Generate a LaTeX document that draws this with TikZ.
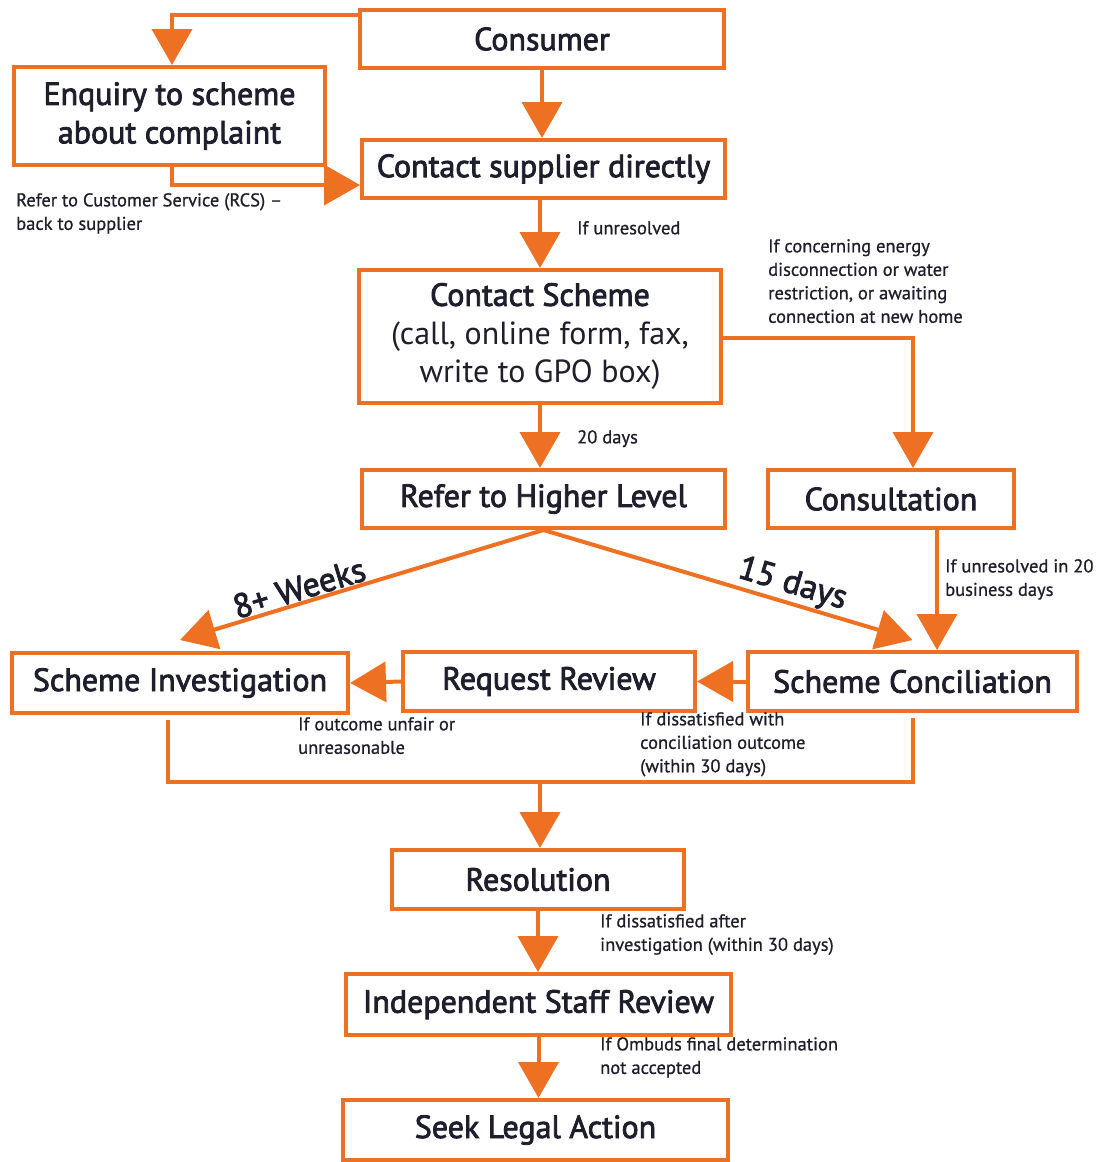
\documentclass[tikz,border=0pt]{standalone}
\usepackage{fontspec}
\setmainfont{PT Sans}
\newfontfamily\medfont{PT Sans}[FakeBold=2.5]
\newfontfamily\notefont{PT Sans}[FakeBold=0.8]
\usetikzlibrary{arrows.meta}
\definecolor{flow}{RGB}{238,112,34}
\definecolor{ink}{RGB}{30,30,44}
\begin{document}
\begin{tikzpicture}[x=1pt,y=-1pt,
  box/.style={draw=flow, line width=4pt, fill=white, text=ink, align=center,
    inner sep=0pt, font=\fontsize{32}{38.5}\selectfont\medfont},
  lab/.style={text=ink, align=left, inner sep=0pt, anchor=north west,
    font=\fontsize{18.5}{23.5}\selectfont\notefont},
  slab/.style={text=ink, inner sep=1pt, font=\fontsize{34}{35}\selectfont\medfont},
  link/.style={draw=flow, line width=4pt},
  arr/.style={link, -{Triangle[width=40pt,length=36pt]}}]
\useasboundingbox (0,0) rectangle (1099,1162);

% boxes
\node[box, minimum width=364pt, minimum height=58pt] (consumer) at (542,39) {Consumer};
\node[box, minimum width=311pt, minimum height=98pt] (enquiry) at (169.5,116) {Enquiry to scheme\\about complaint};
\node[box, minimum width=363pt, minimum height=58pt] (supplier) at (543.5,169) {Contact supplier directly};
\node[box, minimum width=362pt, minimum height=133pt] (scheme) at (540,336.5) {Contact Scheme\\\normalfont(call, online form, fax,\\\normalfont write to GPO box)};
\node[box, minimum width=363pt, minimum height=58pt] (higher) at (543.5,499) {Refer to Higher Level};
\node[box, minimum width=246pt, minimum height=58pt] (consult) at (891,499) {Consultation};
\node[box, minimum width=336pt, minimum height=60pt] (invest) at (180,683) {Scheme Investigation};
\node[box, minimum width=292pt, minimum height=59pt] (review) at (549,681.5) {Request Review};
\node[box, minimum width=329pt, minimum height=59pt] (concil) at (912.5,681.5) {Scheme Conciliation};
\node[box, minimum width=292pt, minimum height=59pt] (resol) at (538,879.5) {Resolution};
\node[box, minimum width=385pt, minimum height=61pt] (isr) at (538.5,1004.5) {Independent Staff Review};
\node[box, minimum width=385pt, minimum height=60pt] (legal) at (535.5,1130) {Seek Legal Action};

% upper part
\draw[arr] ([yshift=-7pt]consumer.north west) -| ([xshift=2.5pt]enquiry.north);
\draw[arr] (consumer.south) -- (consumer.south |- supplier.north);
\draw[arr] ([xshift=2.5pt]enquiry.south) |- ([yshift=-16pt]supplier.west);
\node[lab] (rcs) at (16,193) {Refer to Customer Service (RCS) –\\back to supplier};

\draw[arr] ([xshift=-3.5pt]supplier.south) -- ([xshift=-3.5pt]supplier.south |- scheme.north);
\node[lab] (unres) at (577,221) {If unresolved};

\draw[arr] (scheme.south) -- (scheme.south |- higher.north);
\node[lab] (twenty) at (577,430) {20 days};

\draw[arr] ([yshift=-1.5pt]scheme.east) -| ([xshift=22pt]consult.north);
\node[lab] (energy) at (768,239) {If concerning energy\\disconnection or water\\restriction, or awaiting\\connection at new home};

% split below the higher level
\coordinate (tipL) at ([yshift=11pt]invest.north);
\coordinate (tipR) at ([yshift=10pt]concil.north);
\draw[arr] (higher.south) -- (tipL) node[slab, pos=0.66, sloped, above] (weeks) {8+ Weeks};
\draw[arr] (higher.south) -- (tipR) node[slab, pos=0.66, sloped, above] (fifteen) {15 days};

\draw[arr] ([xshift=46pt]consult.south) -- ([xshift=46pt]consult.south |- concil.north);
\node[lab] (biz) at (945,559) {If unresolved in 20\\business days};

% review chain
\draw[arr] (concil.west) -- (review.east);
\draw[arr] (review.west) -- (invest.east);
\node[lab] (unfair) at (298,717) {If outcome unfair or\\unreasonable};
\node[lab] (dissat) at (640,712) {If dissatisfied with\\conciliation outcome\\(within 30 days)};

% merge into resolution
\coordinate (join) at (540,782);
\draw[link] ([xshift=-12pt,yshift=-5pt]invest.south) |- (join)
  -| ([yshift=-5pt]concil.south);
\draw[arr] (join) -- (join |- resol.north);

% lower part
\draw[arr] (resol.south) -- (resol.south |- isr.north);
\node[lab] (after) at (600,914) {If dissatisfied after\\investigation (within 30 days)};
\draw[arr] (isr.south) -- (isr.south |- legal.north);
\node[lab] (ombuds) at (600,1037) {If Ombuds final determination\\not accepted};
\end{tikzpicture}
\end{document}
